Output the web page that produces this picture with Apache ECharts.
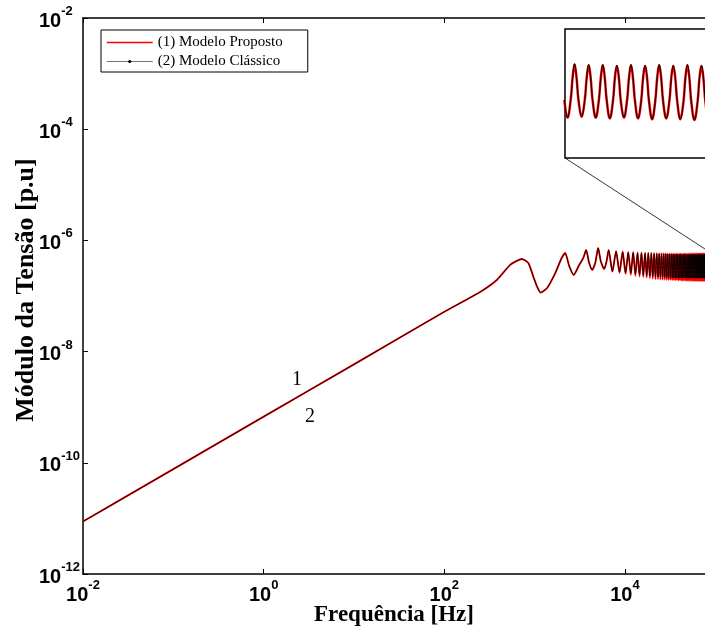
<!DOCTYPE html>
<html><head><meta charset="utf-8">
<script src="https://cdn.jsdelivr.net/npm/echarts@6/dist/echarts.min.js"></script>
<style>html,body{margin:0;padding:0;background:#fff}#c{width:705px;height:634px}</style>
</head><body><div id="c"></div>
<script>
// ---- data ----
const freqHz = [
  0.01, 0.1, 1, 10, 100, 249, 381, 535, 635, 721, 851, 968, 1065, 1164, 1374, 1686, 1985,
  2177, 2411, 2704, 3111, 3450, 3719, 4000, 4335, 4700, 5050, 5400, 5885, 6250, 6600,
  7250, 7975, 8700, 9425, 10150, 10875, 11600, 12325, 13050, 13775,
  14500, 15225, 15950, 16675, 17400, 18125, 18850, 19575, 20300, 21025,
  21750, 22475, 23200, 23925, 24650, 25375, 26100, 26825, 27550, 28275,
  29000, 29725, 30450, 31175, 31900, 32625, 33350, 34075, 34800, 35525,
  36250, 36975, 37700, 38425, 39150, 39875, 40600, 41325, 42050, 42775,
  43500, 44225, 44950, 45675, 46400, 47125, 47850, 48575, 49300, 50025,
  50750, 51475, 52200, 52925, 53650, 54375, 55100, 55825, 56550, 57275,
  58000, 58725, 59450, 60175, 60900, 61625, 62350, 63075, 63800, 64525,
  65250, 65975, 66700, 67425, 68150, 68875, 69600, 70325, 71050, 71775,
  72500, 73225, 73950, 74675, 75400, 76125, 76850, 77575
];
const moduloProposto = [
  8.8e-12, 7.7e-11, 6.75e-10, 5.9e-9, 5.2e-8, 1.18e-7, 1.94e-7, 3.63e-7, 4.3e-7, 4.62e-7, 3.93e-7, 2.22e-7, 1.47e-7, 1.15e-7, 1.39e-7, 2.56e-7, 4.77e-7,
  5.93e-7, 3.47e-7, 2.39e-7, 3.61e-7, 4.8e-7, 6.7e-7, 4.0e-7, 2.94e-7, 4.0e-7, 7.3e-7, 4.2e-7, 3.06e-7, 4.2e-7, 6.7e-7,
  2.74e-7, 6.4e-7, 2.6e-7, 6.3e-7, 2.5e-7, 6.2e-7, 2.4e-7, 6.2e-7, 2.3e-7, 6.1e-7,
  2.25e-7, 6.1e-7, 2.2e-7, 6.0e-7, 2.15e-7, 6.0e-7, 2.1e-7, 6.0e-7, 2.05e-7, 5.95e-7,
  2.0e-7, 5.95e-7, 2.0e-7, 5.9e-7, 1.98e-7, 5.9e-7, 1.97e-7, 5.9e-7, 1.96e-7, 5.9e-7,
  1.95e-7, 5.85e-7, 1.95e-7, 5.85e-7, 1.94e-7, 5.85e-7, 1.93e-7, 5.85e-7, 1.93e-7, 5.85e-7,
  1.92e-7, 5.8e-7, 1.92e-7, 5.8e-7, 1.91e-7, 5.8e-7, 1.91e-7, 5.8e-7, 1.9e-7, 5.8e-7,
  1.9e-7, 5.8e-7, 1.9e-7, 5.8e-7, 1.89e-7, 5.8e-7, 1.89e-7, 5.8e-7, 1.89e-7, 5.8e-7,
  1.89e-7, 5.8e-7, 1.88e-7, 5.8e-7, 1.88e-7, 5.8e-7, 1.88e-7, 5.8e-7, 1.88e-7, 5.8e-7,
  1.88e-7, 5.8e-7, 1.88e-7, 5.8e-7, 1.88e-7, 5.8e-7, 1.88e-7, 5.8e-7, 1.88e-7, 5.8e-7,
  1.88e-7, 5.8e-7, 1.88e-7, 5.8e-7, 1.88e-7, 5.8e-7, 1.88e-7, 5.8e-7, 1.88e-7, 5.8e-7,
  1.88e-7, 5.8e-7, 1.88e-7, 5.8e-7, 1.88e-7, 5.8e-7, 1.88e-7, 5.8e-7
];
const moduloClassico = [
  8.8e-12, 7.7e-11, 6.75e-10, 5.9e-9, 5.2e-8, 1.18e-7, 1.94e-7, 3.63e-7, 4.3e-7, 4.62e-7, 3.93e-7, 2.22e-7, 1.47e-7, 1.15e-7, 1.39e-7, 2.56e-7, 4.77e-7,
  5.93e-7, 3.47e-7, 2.39e-7, 3.61e-7, 4.8e-7, 6.7e-7, 4.0e-7, 2.94e-7, 4.0e-7, 7.3e-7, 4.2e-7, 3.06e-7, 4.2e-7, 6.7e-7,
  2.76e-7, 6.35e-7, 2.7e-7, 6.15e-7, 2.65e-7, 6.0e-7, 2.6e-7, 5.95e-7, 2.5e-7, 5.9e-7,
  2.45e-7, 5.85e-7, 2.4e-7, 5.8e-7, 2.35e-7, 5.8e-7, 2.3e-7, 5.75e-7, 2.25e-7, 5.75e-7,
  2.2e-7, 5.7e-7, 2.2e-7, 5.7e-7, 2.18e-7, 5.68e-7, 2.17e-7, 5.66e-7, 2.16e-7, 5.65e-7,
  2.15e-7, 5.64e-7, 2.14e-7, 5.62e-7, 2.13e-7, 5.6e-7, 2.12e-7, 5.6e-7, 2.12e-7, 5.58e-7,
  2.11e-7, 5.58e-7, 2.11e-7, 5.56e-7, 2.1e-7, 5.56e-7, 2.1e-7, 5.55e-7, 2.1e-7, 5.55e-7,
  2.1e-7, 5.55e-7, 2.1e-7, 5.55e-7, 2.1e-7, 5.55e-7, 2.1e-7, 5.55e-7, 2.1e-7, 5.55e-7,
  2.1e-7, 5.55e-7, 2.1e-7, 5.55e-7, 2.1e-7, 5.55e-7, 2.1e-7, 5.55e-7, 2.1e-7, 5.55e-7,
  2.1e-7, 5.55e-7, 2.1e-7, 5.55e-7, 2.1e-7, 5.55e-7, 2.1e-7, 5.55e-7, 2.1e-7, 5.55e-7,
  2.1e-7, 5.55e-7, 2.1e-7, 5.55e-7, 2.1e-7, 5.55e-7, 2.1e-7, 5.55e-7, 2.1e-7, 5.55e-7,
  2.1e-7, 5.55e-7, 2.1e-7, 5.55e-7, 2.1e-7, 5.55e-7, 2.1e-7, 5.55e-7
];
// inset (zoom of the high-frequency oscillations)
const insetFreqHz = [
  59125, 59450, 59775, 59975, 60175, 60375, 60575,
  60900, 61225, 61425, 61625, 61825, 62025,
  62350, 62675, 62875, 63075, 63275, 63475,
  63800, 64125, 64325, 64525, 64725, 64925,
  65250, 65575, 65775, 65975, 66175, 66375,
  66700, 67025, 67225, 67425, 67625, 67825,
  68150, 68475, 68675, 68875, 69075, 69275,
  69600, 69925, 70125, 70325, 70525, 70725,
  71050, 71375, 71575, 71775, 71975, 72175,
  72500, 72825, 73025, 73225, 73425, 73625,
  73950, 74275, 74475, 74675, 74875
];
const insetProposto = [
  3.6e-7,
  2.5e-7, 3.6e-7, 5.0e-7, 5.8e-7, 5.0e-7, 3.6e-7,
  2.55e-7, 3.6e-7, 5.0e-7, 5.75e-7, 5.0e-7, 3.6e-7,
  2.5e-7, 3.6e-7, 5.0e-7, 5.75e-7, 5.0e-7, 3.6e-7,
  2.45e-7, 3.55e-7, 5.0e-7, 5.7e-7, 5.0e-7, 3.55e-7,
  2.5e-7, 3.6e-7, 5.0e-7, 5.75e-7, 5.0e-7, 3.6e-7,
  2.45e-7, 3.55e-7, 5.0e-7, 5.7e-7, 5.0e-7, 3.55e-7,
  2.4e-7, 3.55e-7, 5.0e-7, 5.75e-7, 5.0e-7, 3.55e-7,
  2.45e-7, 3.55e-7, 5.0e-7, 5.7e-7, 5.0e-7, 3.55e-7,
  2.4e-7, 3.5e-7, 5.0e-7, 5.75e-7, 5.0e-7, 3.5e-7,
  2.35e-7, 3.5e-7, 5.0e-7, 5.7e-7, 4.95e-7, 3.5e-7,
  2.35e-7, 3.5e-7, 4.95e-7, 5.75e-7, 4.95e-7
];
const insetClassico = [
  3.6e-7,
  2.5e-7, 3.6e-7, 5.0e-7, 5.85e-7, 5.0e-7, 3.6e-7,
  2.55e-7, 3.6e-7, 5.0e-7, 5.8e-7, 5.0e-7, 3.6e-7,
  2.5e-7, 3.6e-7, 5.0e-7, 5.8e-7, 5.0e-7, 3.6e-7,
  2.45e-7, 3.55e-7, 5.0e-7, 5.75e-7, 5.0e-7, 3.55e-7,
  2.5e-7, 3.6e-7, 5.0e-7, 5.8e-7, 5.0e-7, 3.6e-7,
  2.45e-7, 3.55e-7, 5.0e-7, 5.75e-7, 5.0e-7, 3.55e-7,
  2.4e-7, 3.55e-7, 5.0e-7, 5.8e-7, 5.0e-7, 3.55e-7,
  2.45e-7, 3.55e-7, 5.0e-7, 5.75e-7, 5.0e-7, 3.55e-7,
  2.4e-7, 3.5e-7, 5.0e-7, 5.8e-7, 5.0e-7, 3.5e-7,
  2.35e-7, 3.5e-7, 5.0e-7, 5.75e-7, 4.95e-7, 3.5e-7,
  2.35e-7, 3.5e-7, 4.95e-7, 5.8e-7, 4.95e-7
];
const xTickExponents = [-2, 0, 2, 4];
const yTickExponents = [-12, -10, -8, -6, -4, -2];
const seriesNames = ['(1) Modelo Proposto', '(2) Modelo Clássico'];
const curveLabels = ['1', '2'];

// ---- chart ----
const chart = echarts.init(document.getElementById('c'), null, {renderer: 'canvas'});
const pairs = (xs, ys) => xs.map((x, i) => [x, ys[i]]);
function powLabel(allowed) {
  return function (v) {
    const e = Math.log10(v);
    const r = Math.round(e);
    if (Math.abs(e - r) > 1e-6 || allowed.indexOf(r) < 0) return '';
    return '{b|10}{e|' + r + '}';
  };
}
const richPow = {
  b: {fontSize: 20, fontWeight: 'bold', fontFamily: 'Liberation Sans', color: '#000', verticalAlign: 'bottom'},
  e: {fontSize: 13, fontWeight: 'bold', fontFamily: 'Liberation Sans', color: '#000', verticalAlign: 'bottom', padding: [0, 0, 13, 0]}
};
const serif = '"Liberation Serif", "Times New Roman", serif';
const xMin = 0.01, xMax = 76900, yMin = 1e-12, yMax = 1e-2;

const option = {
  backgroundColor: '#fff',
  animation: false,
  grid: [
    {left: 83, top: 18, right: 0, bottom: 60, show: false, containLabel: false, outerBoundsMode: 'none'},
    {left: 565, top: 29, width: 150, height: 129, show: true, borderColor: '#000', borderWidth: 1.5, backgroundColor: '#fff', z: 5, containLabel: false, outerBoundsMode: 'none'}
  ],
  legend: {
    data: [
      {name: seriesNames[0], itemStyle: {opacity: 0}, lineStyle: {color: '#ff0000', width: 1.5}},
      {name: seriesNames[1], lineStyle: {color: '#777', width: 1}}
    ],
    orient: 'vertical',
    left: 101, top: 30,
    backgroundColor: '#fff',
    borderColor: '#000', borderWidth: 1,
    padding: [5, 25, 3, 5],
    itemGap: 4,
    itemWidth: 46, itemHeight: 4,
    textStyle: {fontFamily: serif, fontSize: 15, color: '#000'},
    selectedMode: false
  },
  xAxis: [
    {type: 'log', gridIndex: 0, min: xMin, max: xMax, logBase: 10, interval: 2,
     name: 'Frequência [Hz]', nameLocation: 'middle', nameGap: 30, nameMoveOverlap: false,
     nameTextStyle: {fontFamily: serif, fontWeight: 'bold', fontSize: 23, color: '#000'},
     axisLine: {lineStyle: {color: '#000', width: 1.5}},
     axisTick: {inside: true, length: 5, lineStyle: {color: '#000', width: 1}},
     axisLabel: {margin: 5, formatter: powLabel(xTickExponents), rich: richPow, hideOverlap: false},
     splitLine: {show: false}, minorTick: {show: false}},
    {type: 'log', gridIndex: 0, position: 'top', min: xMin, max: xMax, logBase: 10, interval: 2,
     axisLine: {lineStyle: {color: '#000', width: 1.5}},
     axisTick: {inside: true, length: 5, lineStyle: {color: '#000', width: 1}},
     axisLabel: {show: false}, splitLine: {show: false}},
    {type: 'value', gridIndex: 1, min: 59190, max: 74616, show: false}
  ],
  yAxis: [
    {type: 'log', gridIndex: 0, min: yMin, max: yMax, logBase: 10, interval: 2,
     name: 'Módulo da Tensão [p.u]', nameLocation: 'middle', nameGap: 44, nameRotate: 90, nameMoveOverlap: false,
     nameTextStyle: {fontFamily: serif, fontWeight: 'bold', fontSize: 26, color: '#000', padding: [0, 0, 0, 12]},
     axisLine: {lineStyle: {color: '#000', width: 1.5}},
     axisTick: {inside: true, length: 5, lineStyle: {color: '#000', width: 1}},
     axisLabel: {margin: 44, align: 'left', formatter: powLabel(yTickExponents), rich: richPow},
     splitLine: {show: false}},
    {type: 'value', gridIndex: 1, min: 0, max: 8e-7, show: false}
  ],
  series: [
    {name: seriesNames[0], type: 'line', xAxisIndex: 0, yAxisIndex: 0,
     data: pairs(freqHz, moduloProposto), symbol: 'none', smooth: 0.2,
     lineStyle: {color: '#ff0000', width: 1.9}, itemStyle: {color: '#ff0000'}, z: 2},
    {name: seriesNames[1], type: 'line', xAxisIndex: 0, yAxisIndex: 0,
     data: pairs(freqHz, moduloClassico), symbol: 'circle', symbolSize: 4, showSymbol: false, smooth: 0.2,
     lineStyle: {color: '#000', width: 0.9}, itemStyle: {color: '#000'}, z: 3},
    {name: seriesNames[0], type: 'line', xAxisIndex: 2, yAxisIndex: 1,
     data: pairs(insetFreqHz, insetProposto), symbol: 'none', smooth: 0.4,
     lineStyle: {color: '#ff0000', width: 2.5}, itemStyle: {color: '#ff0000'}, z: 6},
    {name: seriesNames[1], type: 'line', xAxisIndex: 2, yAxisIndex: 1,
     data: pairs(insetFreqHz, insetClassico), symbol: 'circle', symbolSize: 4, showSymbol: false, smooth: 0.4,
     lineStyle: {color: '#000', width: 1}, itemStyle: {color: '#000'}, z: 7}
  ],
  graphic: [
    {type: 'line', shape: {x1: 565, y1: 158, x2: 705, y2: 249}, style: {stroke: '#000', lineWidth: 0.8}, z: 10},
    {type: 'text', x: 297, y: 380, style: {text: curveLabels[0], font: '20px ' + serif, fill: '#000', align: 'center', verticalAlign: 'middle'}, z: 10},
    {type: 'text', x: 310, y: 417, style: {text: curveLabels[1], font: '20px ' + serif, fill: '#000', align: 'center', verticalAlign: 'middle'}, z: 10}
  ]
};
chart.setOption(option);
</script>
</body></html>
